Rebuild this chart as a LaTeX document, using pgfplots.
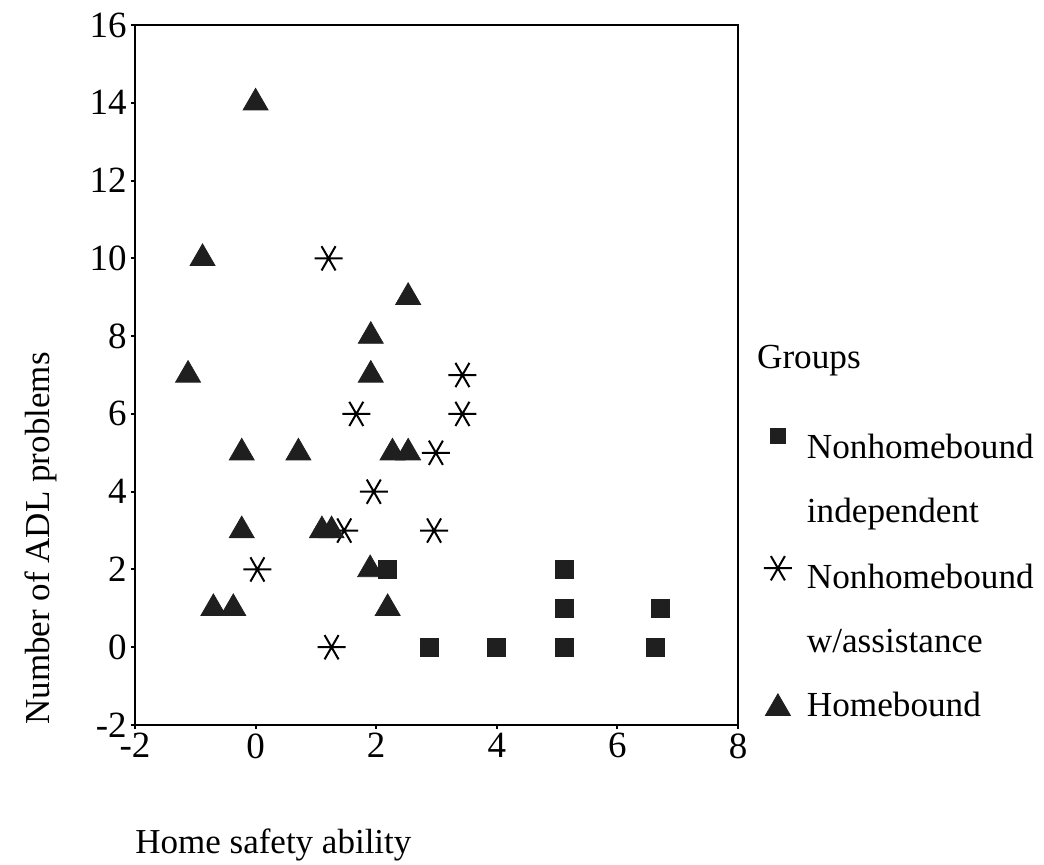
\documentclass[border=0pt]{standalone}
\usepackage{fontspec}
\setmainfont{Liberation Serif}
\usepackage{pgfplots}
\pgfplotsset{compat=1.18}
\pgfplotsset{myleg/.style={legend image code/.code={\pgfsetbaseline{0pt}\path[draw=none,fill=none] (0pt,0pt) rectangle (17pt,0pt);\draw[##1] plot coordinates {(8.5pt,#1)};}}}
\definecolor{mk}{gray}{0.12}
\begin{document}
\begin{tikzpicture}
\useasboundingbox (-67.5pt,-69.5pt) rectangle (454.5pt,362.5pt);
\begin{axis}[
  at={(0pt,0pt)}, anchor=south west,
  scale only axis, width=301.5pt, height=350pt,
  xmin=-2, xmax=8, ymin=-2, ymax=16,
  xtick={-2,0,2,4,6,8}, ytick={-2,0,2,4,6,8,10,12,14,16},
  tick align=outside, major tick length=2pt,
  xtick pos=left, ytick pos=left,
  axis line style={line width=1pt, black},
  tick style={line width=1pt, black},
  /pgf/number format/assume math mode=true,
  ticklabel style={font=\fontsize{18.5}{22}\selectfont, inner sep=2pt},
  xlabel={Home safety ability},
  xlabel style={at={(rel axis cs:0,-0.183)}, anchor=base west, inner sep=0pt, font=\fontsize{17.5}{21}\selectfont},
  ylabel={Number of ADL problems},
  ylabel style={at={(rel axis cs:-0.141,0)}, anchor=base west, inner sep=0pt, font=\fontsize{17.5}{21}\selectfont},
  legend style={at={(rel axis cs:1.038,0.4243)}, anchor=north west, draw=none, fill=none, inner sep=0pt, outer sep=0pt,
    column sep=6pt, row sep=15.5pt, font=\fontsize{17.6}{21}\selectfont,
    nodes={inner sep=0pt, text height=15pt}},
  legend cell align=left,
  clip=false,
]
% Nonhomebound independent
\addplot[only marks, mark=square*, mark size=4.5pt, mark options={fill=mk, draw=mk}, forget plot] coordinates {
(2.18,2) (2.88,0) (3.99,0) (5.12,0) (5.12,1) (5.12,2) (6.71,1) (6.63,0)
};
% Nonhomebound w/assistance
\addplot[only marks, mark=asterisk, mark size=7pt, line width=1pt, mark options={rotate=90, draw=black}, forget plot] coordinates {
(1.21,10) (1.67,6) (2.99,5) (3.43,7) (3.43,6) (1.96,4) (1.47,3) (2.96,3) (0.03,2) (1.26,0)
};
% Homebound
\addplot[only marks, mark=triangle*, mark size=7.2pt, mark options={fill=mk, draw=mk}, forget plot] coordinates {
(0,14) (-0.88,10) (2.53,9) (1.91,8) (-1.12,7) (1.91,7) (-0.23,5) (0.71,5) (2.27,5) (2.53,5)
(-0.23,3) (1.10,3) (1.26,3) (1.90,2) (-0.70,1) (-0.37,1) (2.19,1)
};
\addlegendimage{mark=square*, mark size=3.8pt, mark options={fill=mk, draw=mk}, myleg=4.5pt}
\addlegendentry{Nonhomebound}
\addlegendimage{legend image code/.code={\pgfsetbaseline{0pt}\path[draw=none,fill=none] (0pt,0pt) rectangle (17pt,0pt);}}
\addlegendentry{independent}
\addlegendimage{mark=asterisk, mark size=7pt, line width=1pt, mark options={rotate=90, draw=black}, myleg=3.5pt}
\addlegendentry{Nonhomebound}
\addlegendimage{legend image code/.code={\pgfsetbaseline{0pt}\path[draw=none,fill=none] (0pt,0pt) rectangle (17pt,0pt);}}
\addlegendentry{w/assistance}
\addlegendimage{mark=triangle*, mark size=7.2pt, mark options={fill=mk, draw=mk}, myleg=-2.5pt}
\addlegendentry{Homebound}
\node[anchor=base west, inner sep=0pt, font=\fontsize{17.6}{21}\selectfont] at (rel axis cs:1.031,0.510) {Groups};
\end{axis}
\end{tikzpicture}
\end{document}
